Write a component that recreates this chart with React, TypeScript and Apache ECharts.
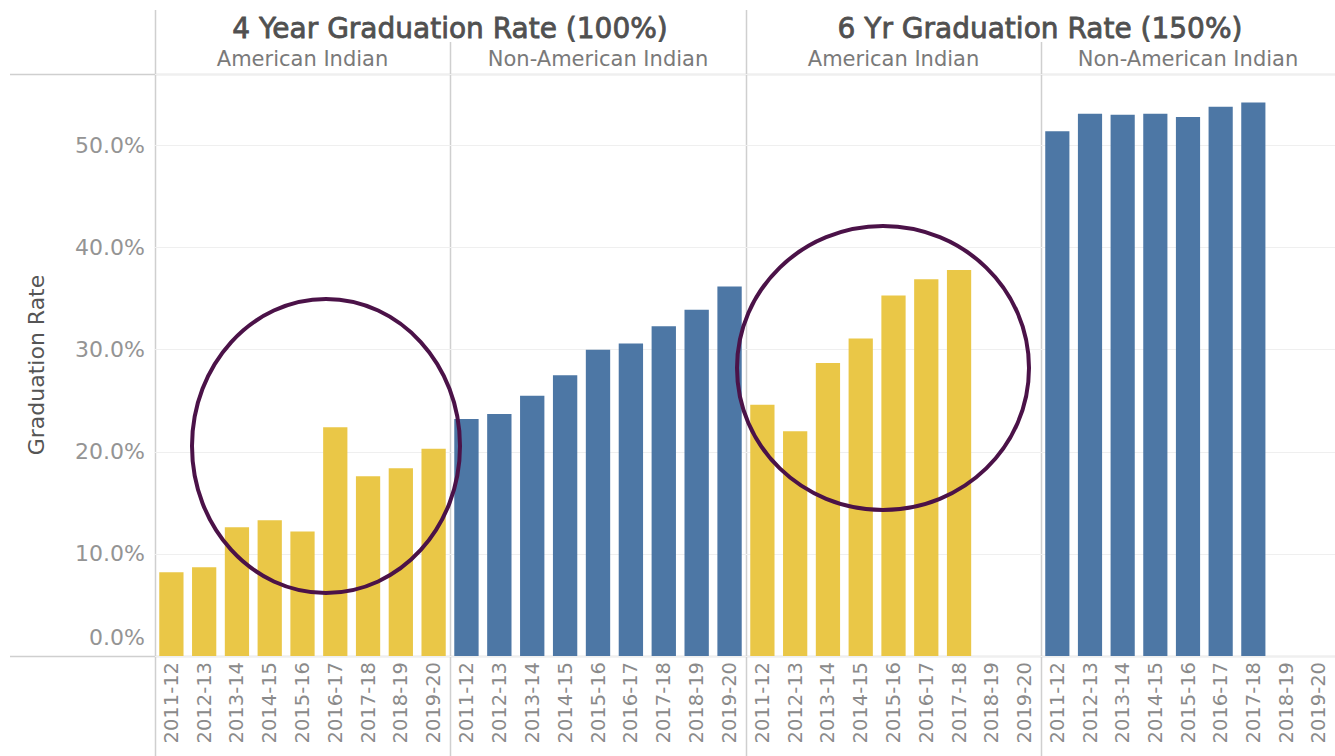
import React, { useEffect, useRef } from "react";
import * as echarts from "echarts";

const categories = ["2011-12", "2012-13", "2013-14", "2014-15", "2015-16", "2016-17", "2017-18", "2018-19", "2019-20"];
const ai4Year = [8.2, 8.7, 12.6, 13.3, 12.2, 22.4, 17.6, 18.4, 20.3];
const nonAi4Year = [23.2, 23.7, 25.5, 27.5, 30.0, 30.6, 32.3, 33.9, 36.2];
const ai6Year = [24.6, 22.0, 28.7, 31.1, 35.3, 36.9, 37.8, null, null];
const nonAi6Year = [51.4, 53.1, 53.0, 53.1, 52.8, 53.8, 54.2, null, null];
const panelSeries = [ai4Year, nonAi4Year, ai6Year, nonAi6Year];
const panelNames = ["American Indian", "Non-American Indian", "American Indian", "Non-American Indian"];
const groupTitles = ["4 Year Graduation Rate (100%)", "6 Yr Graduation Rate (150%)"];

const YELLOW = "#EAC747";
const BLUE = "#4D77A5";
const FONT = "'DejaVu Sans', 'Open Sans', sans-serif";

export default function App() {
  const ref = useRef<HTMLDivElement>(null);
  useEffect(() => {
    document.body.style.margin = "0";
    const chart = echarts.init(ref.current!, null, { renderer: "svg" });
    const lefts = [155, 450, 746, 1041];
    const widths = [295, 296, 295, 294];
    const colors = [YELLOW, BLUE, YELLOW, BLUE];
    const grids = lefts.map((l, i) => ({ left: l, width: widths[i], top: 74, bottom: 100 }));
    const xAxis = lefts.map((_, i) => ({
      type: "category",
      gridIndex: i,
      data: categories,
      axisLine: { show: false },
      axisTick: { show: false },
      axisLabel: { rotate: 90, fontSize: 19.5, color: "#8a8a8a", fontFamily: FONT, margin: 6, interval: 0 },
    }));
    const yAxis = lefts.map((_, i) => ({
      type: "value",
      gridIndex: i,
      min: 0,
      max: 57,
      interval: 10,
      name: i === 0 ? "Graduation Rate" : "",
      nameLocation: "middle",
      nameGap: 108,
      nameTextStyle: { fontSize: 22, color: "#555", fontFamily: FONT },
      axisLine: { show: false },
      axisTick: { show: false },
      splitLine: { show: true, lineStyle: { color: "#efefef", width: 1 } },
      axisLabel: {
        show: i === 0,
        fontSize: 22,
        color: "#949494",
        fontFamily: FONT,
        margin: 10,
        formatter: (v: number) => {
          if (v % 10 !== 0) return "";
          if (v === 0) return "{z|0.0%}";
          return v.toFixed(1) + "%";
        },
        rich: { z: { fontSize: 22, color: "#949494", fontFamily: FONT, padding: [0, 0, 38, 0] } },
      },
    }));
    const series = panelSeries.map((d, i) => ({
      type: "bar",
      xAxisIndex: i,
      yAxisIndex: i,
      data: d,
      barCategoryGap: "26%",
      itemStyle: { color: colors[i] },
    }));
    const lineColor = "#cfcfcf";
    const graphic: any[] = [
      { type: "line", shape: { x1: 10, y1: 74.5, x2: 1335, y2: 74.5 }, style: { stroke: lineColor, lineWidth: 1.5 } },
      { type: "line", shape: { x1: 10, y1: 656.5, x2: 1335, y2: 656.5 }, style: { stroke: lineColor, lineWidth: 1.5 } },
      { type: "line", shape: { x1: 155.5, y1: 10, x2: 155.5, y2: 756 }, style: { stroke: lineColor, lineWidth: 1.5 } },
      { type: "line", shape: { x1: 746.5, y1: 10, x2: 746.5, y2: 756 }, style: { stroke: lineColor, lineWidth: 1.5 } },
      { type: "line", shape: { x1: 450.5, y1: 42, x2: 450.5, y2: 756 }, style: { stroke: lineColor, lineWidth: 1.5 } },
      { type: "line", shape: { x1: 1041.5, y1: 42, x2: 1041.5, y2: 756 }, style: { stroke: lineColor, lineWidth: 1.5 } },
      {
        type: "text", x: 450, y: 28,
        style: { text: groupTitles[0], fill: "#505050", stroke: "#505050", lineWidth: 0.8, font: `28px ${FONT}`, align: "center", verticalAlign: "middle" },
      },
      {
        type: "text", x: 1040, y: 28,
        style: { text: groupTitles[1], fill: "#505050", stroke: "#505050", lineWidth: 0.8, font: `28px ${FONT}`, align: "center", verticalAlign: "middle" },
      },
      ...panelNames.map((n, i) => ({
        type: "text", x: lefts[i] + widths[i] / 2, y: 59,
        style: { text: n, fill: "#7a7a7a", font: `21px ${FONT}`, align: "center", verticalAlign: "middle" },
      })),
      {
        type: "ellipse", shape: { cx: 326, cy: 446, rx: 134, ry: 147 }, z: 100,
        style: { fill: "none", stroke: "#4B1248", lineWidth: 4 },
      },
      {
        type: "ellipse", shape: { cx: 883, cy: 368, rx: 146, ry: 142 }, z: 100,
        style: { fill: "none", stroke: "#4B1248", lineWidth: 4 },
      },
    ];
    chart.setOption({
      animation: false,
      backgroundColor: "#fff",
      grid: grids,
      xAxis,
      yAxis,
      series,
      graphic,
    });
    return () => chart.dispose();
  }, []);
  return <div ref={ref} style={{ width: 1335, height: 756 }} />;
}
